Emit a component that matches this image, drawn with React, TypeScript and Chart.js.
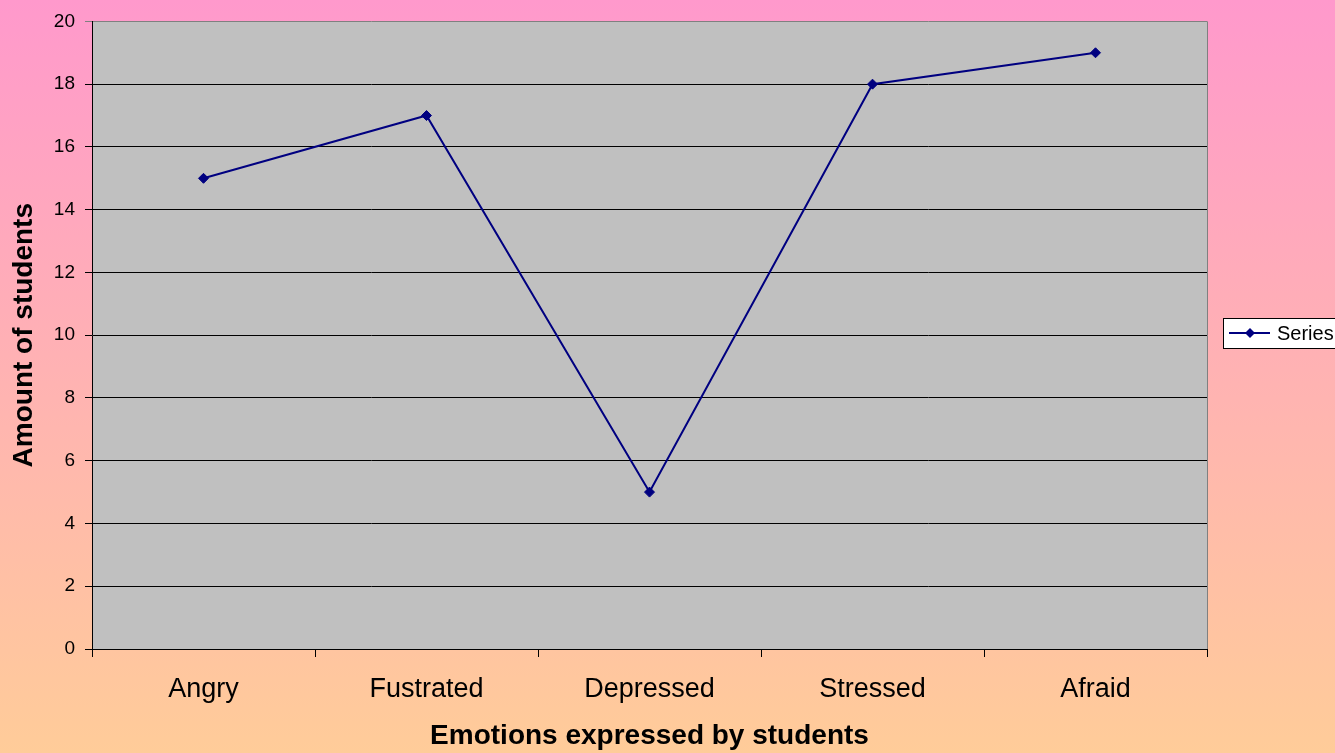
import React, { useEffect, useRef } from "react";
import { Chart, registerables } from "chart.js";

Chart.register(...registerables);

const categories = ["Angry", "Fustrated", "Depressed", "Stressed", "Afraid"];
const seriesLabel = "Series1";
const seriesValues = [15, 17, 5, 18, 19];
const yMin = 0;
const yMax = 20;
const yStep = 2;
const xTitle = "Emotions expressed by students";
const yTitle = "Amount of students";

const FONT = "Arial, 'Liberation Sans', sans-serif";
const NAVY = "#000080";

const backgroundPlugin = {
  id: "bgPlugin",
  beforeDraw(chart: any) {
    const { ctx, width, height, chartArea } = chart;
    ctx.save();
    const g = ctx.createLinearGradient(0, 0, 0, height);
    g.addColorStop(0, "#FF99CC");
    g.addColorStop(1, "#FFCC99");
    ctx.fillStyle = g;
    ctx.fillRect(0, 0, width, height);
    ctx.fillStyle = "#C0C0C0";
    ctx.fillRect(chartArea.left, chartArea.top, chartArea.right - chartArea.left, chartArea.bottom - chartArea.top);
    ctx.restore();
  },
  beforeDatasetsDraw(chart: any) {
    const { ctx, chartArea } = chart;
    ctx.save();
    ctx.strokeStyle = "#808080";
    ctx.lineWidth = 1;
    ctx.beginPath();
    ctx.moveTo(Math.round(chartArea.right) + 0.5, chartArea.top);
    ctx.lineTo(Math.round(chartArea.right) + 0.5, chartArea.bottom);
    ctx.stroke();
    ctx.restore();
  },
  afterDraw(chart: any) {
    const { ctx, chartArea } = chart;
    const label = chart.data.datasets[0].label;
    const bx = Math.round(chartArea.right) + 16;
    const by = 318;
    const cy = by + 15;
    ctx.save();
    ctx.fillStyle = "#FFFFFF";
    ctx.fillRect(bx, by, 140, 30);
    ctx.strokeStyle = "#000000";
    ctx.lineWidth = 1;
    ctx.strokeRect(bx + 0.5, by + 0.5, 140, 30);
    ctx.strokeStyle = NAVY;
    ctx.lineWidth = 2;
    ctx.beginPath();
    ctx.moveTo(bx + 6, cy);
    ctx.lineTo(bx + 47, cy);
    ctx.stroke();
    ctx.fillStyle = NAVY;
    ctx.beginPath();
    const mx = bx + 27;
    ctx.moveTo(mx, cy - 5);
    ctx.lineTo(mx + 5, cy);
    ctx.lineTo(mx, cy + 5);
    ctx.lineTo(mx - 5, cy);
    ctx.closePath();
    ctx.fill();
    ctx.fillStyle = "#000000";
    ctx.font = `20px ${FONT}`;
    ctx.textBaseline = "middle";
    ctx.textAlign = "left";
    ctx.fillText(label, bx + 54, cy + 1);
    ctx.restore();
  },
};

export default function App() {
  const canvasRef = useRef<HTMLCanvasElement | null>(null);

  useEffect(() => {
    const canvas = canvasRef.current;
    if (!canvas) return;
    const chart = new Chart(canvas, {
      type: "line",
      data: {
        labels: categories,
        datasets: [
          {
            label: seriesLabel,
            data: seriesValues,
            borderColor: NAVY,
            backgroundColor: NAVY,
            borderWidth: 2,
            pointStyle: "rectRot",
            pointRadius: 5,
            pointBackgroundColor: NAVY,
            pointBorderColor: NAVY,
            pointBorderWidth: 1,
            tension: 0,
            fill: false,
          },
        ],
      },
      options: {
        animation: false,
        responsive: true,
        maintainAspectRatio: false,
        layout: { padding: { top: 19, right: 128, left: 0, bottom: 0 } },
        plugins: {
          legend: { display: false },
          tooltip: { enabled: false },
        },
        scales: {
          x: {
            type: "category",
            offset: true,
            afterFit: (s: any) => {
              s.height = 104;
            },
            grid: {
              offset: true,
              drawOnChartArea: false,
              drawTicks: true,
              tickLength: 8,
              color: "#000000",
            },
            border: { display: true, color: "#000000", width: 1 },
            ticks: {
              color: "#000000",
              font: { family: FONT, size: 27 },
              padding: 16,
              maxRotation: 0,
              autoSkip: false,
            },
            title: {
              display: true,
              text: xTitle,
              color: "#000000",
              font: { family: FONT, size: 28, weight: "bold" },
              padding: { top: 0, bottom: 0 },
            },
          },
          y: {
            min: yMin,
            max: yMax,
            afterFit: (s: any) => {
              s.width = 92;
            },
            grid: {
              color: (c: any) => (c.tick && c.tick.value === yMax ? "#808080" : "#000000"),
              lineWidth: 1,
              drawTicks: true,
              tickLength: 7,
            },
            border: { display: true, color: "#000000", width: 1 },
            ticks: {
              stepSize: yStep,
              color: "#000000",
              font: { family: FONT, size: 19 },
              padding: 10,
            },
            title: {
              display: true,
              text: yTitle,
              color: "#000000",
              font: { family: FONT, size: 28, weight: "bold" },
              padding: { top: 7, bottom: 0 },
            },
          },
        },
      },
      plugins: [backgroundPlugin],
    } as any);
    return () => chart.destroy();
  }, []);

  return (
    <div style={{ position: "fixed", left: 0, top: 0, width: 1335, height: 753 }}>
      <canvas ref={canvasRef} />
    </div>
  );
}
